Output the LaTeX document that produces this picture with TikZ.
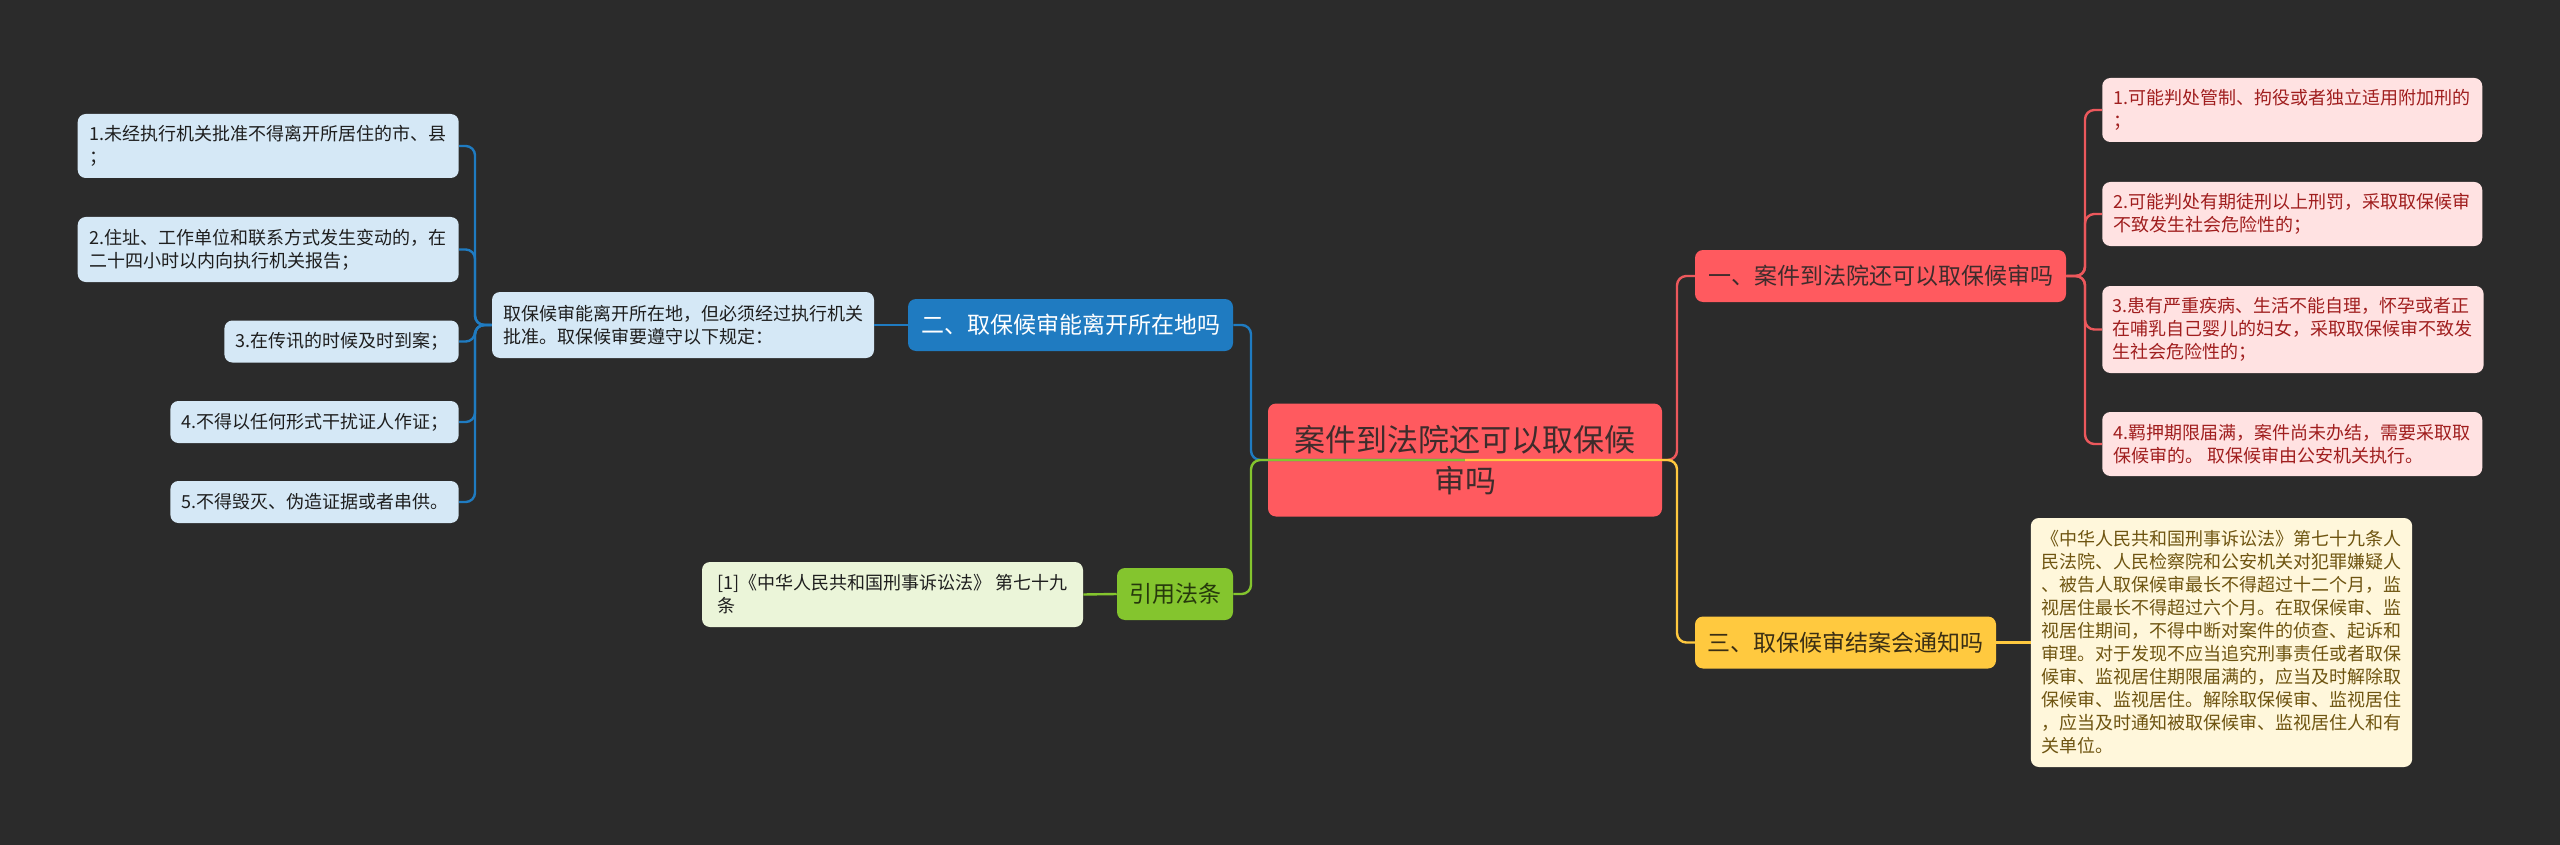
\documentclass[tikz,border=0pt]{standalone}
\usepackage{fontspec}
\setmainfont{Noto Sans CJK SC}
\usepackage{tikz}
\usetikzlibrary{arrows}

\definecolor{bgdark}{RGB}{43,43,43}
\definecolor{redmain}{RGB}{255,90,95}
\definecolor{redline}{RGB}{236,88,92}
\definecolor{redleaf}{RGB}{255,226,226}
\definecolor{redtext}{RGB}{160,30,30}
\definecolor{roottext}{RGB}{62,44,44}
\definecolor{bluemain}{RGB}{31,123,193}
\definecolor{blueleaf}{RGB}{213,232,246}
\definecolor{bluetext}{RGB}{30,30,30}
\definecolor{greenmain}{RGB}{132,197,46}
\definecolor{greenleaf}{RGB}{235,245,217}
\definecolor{greentext}{RGB}{38,56,12}
\definecolor{yellowmain}{RGB}{255,201,63}
\definecolor{yellowleaf}{RGB}{255,247,219}
\definecolor{yellowtext}{RGB}{110,84,16}
\definecolor{topictext}{RGB}{58,46,20}

\begin{document}
\begin{tikzpicture}[x=0.75pt,y=-0.75pt]
    \tikzstyle{box}=[rectangle,rounded corners=6pt,inner xsep=8pt,inner ysep=5pt,align=left]
    \tikzstyle{root}=[box,fill=redmain,text=roottext,align=center,minimum width=295.5pt,minimum height=84.75pt,font=\fontsize{23.25pt}{30.75pt}\selectfont]
    \tikzstyle{topic}=[box,minimum height=39pt,font=\fontsize{17.25pt}{21pt}\selectfont]
    \tikzstyle{leaf}=[box,font=\fontsize{13.5pt}{17.25pt}\selectfont]
    \tikzstyle{blue leaf}=[leaf,fill=blueleaf,text=bluetext]
    \tikzstyle{red leaf}=[leaf,fill=redleaf,text=redtext,anchor=west,minimum width=285pt]
    \tikzstyle{green leaf}=[leaf,fill=greenleaf,text=bluetext]
    \tikzstyle{yellow leaf}=[leaf,fill=yellowleaf,text=yellowtext]
    \tikzstyle{link}=[line width=1.8pt,rounded corners=7pt]

    % Background
    \fill[bgdark] (0,0) rectangle (2560,845);

    % Draw the root and the three topics
    \node[root] (root) at (1465,460) {案件到法院还可以取保候\\审吗};
    \node[topic,fill=redmain,text=roottext,minimum width=278.25pt] (t1) at (1880.5,276) {一、案件到法院还可以取保候审吗};
    \node[topic,fill=bluemain,text=white,minimum width=243.75pt] (t2) at (1070.5,325) {二、取保候审能离开所在地吗};
    \node[topic,fill=yellowmain,text=topictext,minimum width=225.75pt] (t3) at (1845.5,642.5) {三、取保候审结案会通知吗};
    \node[topic,fill=greenmain,text=greentext,minimum width=87pt] (cite) at (1175,594) {引用法条};

    % Draw the blue branch
    \node[blue leaf,minimum width=286.5pt,minimum height=49.5pt] (d2) at (683,325) {取保候审能离开所在地，但必须经过执行机关\\批准。取保候审要遵守以下规定：};
    \node[blue leaf,anchor=east,minimum width=285.75pt,minimum height=48pt] (b-1) at (459,146) {1.未经执行机关批准不得离开所居住的市、县\\；};
    \node[blue leaf,anchor=east,minimum width=285.75pt,minimum height=48.75pt] (b-2) at (459,249.5) {2.住址、工作单位和联系方式发生变动的，在\\二十四小时以内向执行机关报告；};
    \node[blue leaf,anchor=east,minimum width=174.75pt,minimum height=31.5pt] (b-3) at (459,341.5) {3.在传讯的时候及时到案；};
    \node[blue leaf,anchor=east,minimum width=215.25pt,minimum height=31.5pt] (b-4) at (459,422) {4.不得以任何形式干扰证人作证；};
    \node[blue leaf,anchor=east,minimum width=215.25pt,minimum height=31.5pt] (b-5) at (459,502) {5.不得毁灭、伪造证据或者串供。};

    % Draw the red branch
    \node[red leaf,minimum height=48pt] (r-1) at (2102,110) {1.可能判处管制、拘役或者独立适用附加刑的\\；};
    \node[red leaf,minimum height=48pt] (r-2) at (2102,214) {2.可能判处有期徒刑以上刑罚，采取取保候审\\不致发生社会危险性的；};
    \node[red leaf,minimum height=65.25pt] (r-3) at (2102,329.5) {3.患有严重疾病、生活不能自理，怀孕或者正\\在哺乳自己婴儿的妇女，采取取保候审不致发\\生社会危险性的；};
    \node[red leaf,minimum height=48pt] (r-4) at (2102,444) {4.羁押期限届满，案件尚未办结，需要采取取\\保候审的。 取保候审由公安机关执行。};

    % Draw the green and yellow leaves
    \node[green leaf,minimum width=285.75pt,minimum height=48.75pt] (g-1) at (892.5,594.5) {[1]《中华人民共和国刑事诉讼法》 第七十九\\条};
    \node[yellow leaf,minimum width=285.75pt,minimum height=186.75pt] (y-1) at (2221.5,642.5) {《中华人民共和国刑事诉讼法》第七十九条人\\民法院、人民检察院和公安机关对犯罪嫌疑人\\、被告人取保候审最长不得超过十二个月，监\\视居住最长不得超过六个月。在取保候审、监\\视居住期间，不得中断对案件的侦查、起诉和\\审理。对于发现不应当追究刑事责任或者取保\\候审、监视居住期限届满的，应当及时解除取\\保候审、监视居住。解除取保候审、监视居住\\，应当及时通知被取保候审、监视居住人和有\\关单位。};

    % Connect the root with the topics
    \coordinate (lbus) at (1251,460);
    \coordinate (rbus) at (1677,460);
    \draw[link,bluemain] (root.center) -- (lbus) |- (t2.east);
    \draw[link,redline] (root.center) -- (rbus) |- (t1.west);
    \draw[link,greenmain] (root.center) -- (lbus) |- (cite.east);
    \draw[link,yellowmain] (root.center) -- (rbus) |- (t3.west);

    % Connect the topics with their leaves
    \draw[link,bluemain] (t2.west) -- (d2.east);
    \coordinate (bbus) at (475,325);
    \foreach \i in {1,...,5}
        \draw[link,bluemain] (d2.west) -- (bbus) |- (b-\i.east);
    \coordinate (rbus2) at (2085,276);
    \foreach \i in {1,...,4}
        \draw[link,redline] (t1.east) -- (rbus2) |- (r-\i.west);
    \draw[link,greenmain] (cite.west) -- (g-1.east);
    \draw[link,yellowmain] (t3.east) -- (y-1.west);
\end{tikzpicture}
\end{document}
